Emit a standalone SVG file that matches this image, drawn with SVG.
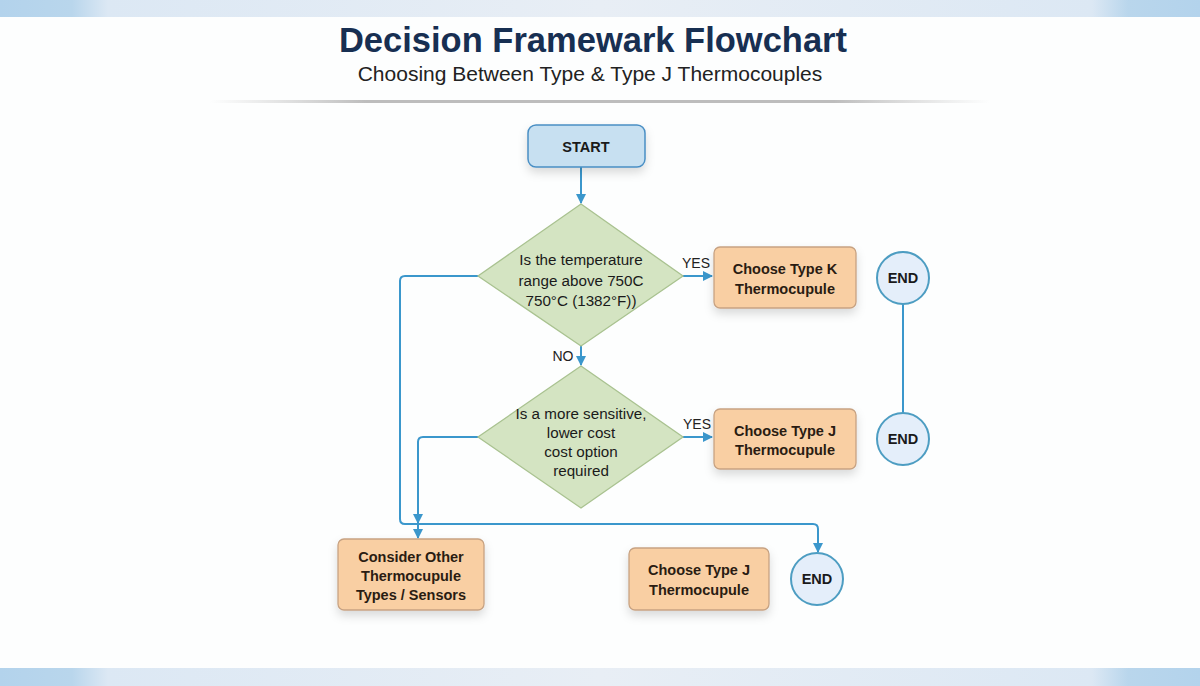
<svg xmlns="http://www.w3.org/2000/svg" width="1200" height="686" viewBox="0 0 1200 686">
<defs>
<style>
.title{font-family:"Liberation Sans",Arial,sans-serif;font-weight:bold;font-size:34.5px;fill:#172f52;text-anchor:middle}
.sub{font-family:"Liberation Sans",Arial,sans-serif;font-size:21px;fill:#222;text-anchor:middle}
.t{font-family:"Liberation Sans",Arial,sans-serif;font-size:15.2px;fill:#1a1a1a;text-anchor:middle}
.b{font-family:"Liberation Sans",Arial,sans-serif;font-size:14.5px;font-weight:bold;fill:#2a1c12;text-anchor:middle}
.e{font-family:"Liberation Sans",Arial,sans-serif;font-size:14.5px;font-weight:bold;fill:#1a1a1a;text-anchor:middle}
.lbl{font-family:"Liberation Sans",Arial,sans-serif;font-size:14px;fill:#222;text-anchor:middle}
.box{fill:#f9cfa3;stroke:#c7a282;stroke-width:1.3}
.dia{fill:#d4e4c2;stroke:#a9c290;stroke-width:1.3}
.end{fill:#e4eefa;stroke:#4d9dc2;stroke-width:2}
.ln{fill:none;stroke:#3b97cc;stroke-width:2}
</style>
<marker id="ar" viewBox="0 0 10 10" refX="9" refY="5" markerWidth="5" markerHeight="5" orient="auto" markerUnits="strokeWidth">
<path d="M0,0 L10,5 L0,10 z" fill="#3b97cc"/>
</marker>
<filter id="sh" x="-20%" y="-20%" width="140%" height="160%">
<feDropShadow dx="0" dy="5" stdDeviation="5" flood-color="#000" flood-opacity="0.14"/>
</filter>
<linearGradient id="band" x1="0" y1="0" x2="1" y2="0">
<stop offset="0" stop-color="#b3d3ec"/>
<stop offset="0.06" stop-color="#b9d6ec"/>
<stop offset="0.09" stop-color="#dce8f4"/>
<stop offset="0.5" stop-color="#e8eef5"/>
<stop offset="0.91" stop-color="#dce8f4"/>
<stop offset="0.94" stop-color="#b9d6ec"/>
<stop offset="1" stop-color="#b3d3ec"/>
</linearGradient>
<linearGradient id="sep" x1="0" y1="0" x2="1" y2="0">
<stop offset="0" stop-color="#c8c8c8" stop-opacity="0"/>
<stop offset="0.2" stop-color="#bdbdbd"/>
<stop offset="0.8" stop-color="#bdbdbd"/>
<stop offset="1" stop-color="#c8c8c8" stop-opacity="0"/>
</linearGradient>
</defs>
<rect width="1200" height="686" fill="#fdfefe"/>
<rect x="0" y="0" width="1200" height="17" fill="url(#band)"/>
<rect x="0" y="668" width="1200" height="18" fill="url(#band)"/>
<text class="title" x="593" y="52">Decision Framewark Flowchart</text>
<text class="sub" x="590" y="81">Choosing Between Type &amp; Type J Thermocouples</text>
<rect x="210" y="100" width="780" height="3" fill="url(#sep)"/>

<g id="connectors">
<path class="ln" d="M581,167 V203" marker-end="url(#ar)"/>
<path class="ln" d="M683,276 H712" marker-end="url(#ar)"/>
<path class="ln" d="M581,346 V365" marker-end="url(#ar)"/>
<path class="ln" d="M683,437 H712" marker-end="url(#ar)"/>
<path class="ln" d="M903,304 V413"/>
<path class="ln" d="M478,276 H405 Q400,276 400,281 V519 Q400,524 405,524 H813 Q818,524 818,529 V552" marker-end="url(#ar)"/>
<path class="ln" d="M478,437 H423 Q418,437 418,442 V523" marker-end="url(#ar)"/>
<path class="ln" d="M418,524 V538" marker-end="url(#ar)"/>
<text class="lbl" x="696" y="268">YES</text>
<text class="lbl" x="563" y="361">NO</text>
<text class="lbl" x="697" y="429">YES</text>
</g>

<g id="start">
<rect x="528" y="125" width="117" height="42" rx="8" fill="#c7e0f1" stroke="#4a8fc4" stroke-width="1.5" filter="url(#sh)"/>
<text class="e" x="586" y="152">START</text>
</g>

<g id="decision1">
<polygon class="dia" points="581,204 683,276 581,346 478,276"/>
<text class="t" x="581" y="265">Is the temperature</text>
<text class="t" x="581" y="286">range above 750C</text>
<text class="t" x="581" y="306">750°C (1382°F))</text>
</g>

<g id="typeK">
<rect class="box" x="714" y="247" width="142" height="61" rx="6" filter="url(#sh)"/>
<text class="b" x="785" y="274">Choose Type K</text>
<text class="b" x="785" y="294">Thermocupule</text>
</g>

<g id="end1">
<circle class="end" cx="903" cy="278" r="26"/>
<text class="e" x="903" y="283">END</text>
</g>

<g id="decision2">
<polygon class="dia" points="581,366 683,437 581,508 478,437"/>
<text class="t" x="581" y="419">Is a more sensitive,</text>
<text class="t" x="581" y="438">lower cost</text>
<text class="t" x="581" y="457">cost option</text>
<text class="t" x="581" y="476">required</text>
</g>

<g id="typeJ1">
<rect class="box" x="714" y="409" width="142" height="60" rx="6" filter="url(#sh)"/>
<text class="b" x="785" y="436">Choose Type J</text>
<text class="b" x="785" y="455">Thermocupule</text>
</g>

<g id="end2">
<circle class="end" cx="903" cy="439" r="26"/>
<text class="e" x="903" y="444">END</text>
</g>

<g id="consider">
<rect class="box" x="338" y="539" width="146" height="71" rx="6" filter="url(#sh)"/>
<text class="b" x="411" y="562">Consider Other</text>
<text class="b" x="411" y="581">Thermocupule</text>
<text class="b" x="411" y="600">Types / Sensors</text>
</g>

<g id="typeJ2">
<rect class="box" x="629" y="548" width="140" height="62" rx="6" filter="url(#sh)"/>
<text class="b" x="699" y="575">Choose Type J</text>
<text class="b" x="699" y="595">Thermocupule</text>
</g>

<g id="end3">
<circle class="end" cx="817" cy="579" r="26"/>
<text class="e" x="817" y="584">END</text>
</g>
</svg>
